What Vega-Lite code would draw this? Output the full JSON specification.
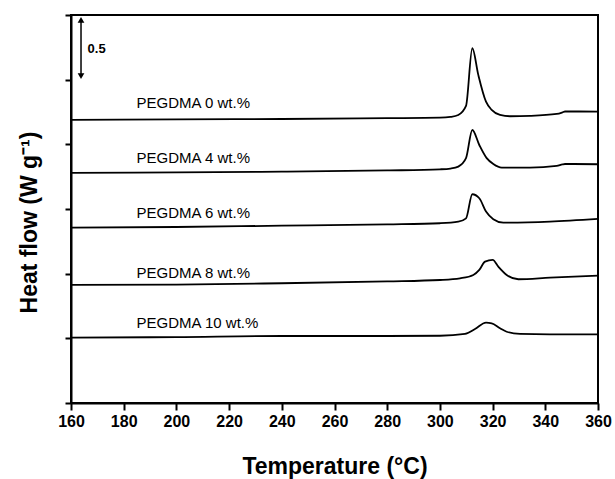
{
  "$schema": "https://vega.github.io/schema/vega-lite/v6.json",
  "width": 527,
  "height": 388,
  "autosize": "none",
  "padding": {"left": 71, "top": 15, "right": 17, "bottom": 76},
  "background": "white",
  "config": {
    "view": {"stroke": "black", "strokeWidth": 2},
    "font": "Liberation Sans",
    "axis": {"domainColor": "black", "domainWidth": 2, "tickColor": "black", "tickWidth": 2, "grid": false, "labelColor": "black", "titleColor": "black", "labelFont": "Liberation Sans", "titleFont": "Liberation Sans", "labelFontWeight": "bold", "titleFontWeight": "bold"},
    "axisX": {"labelFontWeight": "bold", "labelFontSize": 16}
  },
  "datasets": {
    "curves": [
      {"T": 160, "hf": 2.189, "s": "0"}, {"T": 200, "hf": 2.193, "s": "0"}, {"T": 240, "hf": 2.196, "s": "0"}, {"T": 280, "hf": 2.202, "s": "0"}, {"T": 300.04, "hf": 2.206, "s": "0"}, {"T": 304, "hf": 2.212, "s": "0"}, {"T": 306.98, "hf": 2.227, "s": "0"}, {"T": 309.91, "hf": 2.297, "s": "0"}, {"T": 312.3, "hf": 2.743, "s": "0"}, {"T": 314.57, "hf": 2.537, "s": "0"}, {"T": 317.5, "hf": 2.33, "s": "0"}, {"T": 319.66, "hf": 2.266, "s": "0"}, {"T": 322.81, "hf": 2.227, "s": "0"}, {"T": 326.6, "hf": 2.217, "s": "0"}, {"T": 334.19, "hf": 2.22, "s": "0"}, {"T": 344.33, "hf": 2.235, "s": "0"}, {"T": 346.5, "hf": 2.247, "s": "0"}, {"T": 347.48, "hf": 2.254, "s": "0"}, {"T": 360, "hf": 2.253, "s": "0"},
      {"T": 160, "hf": 1.779, "s": "4"}, {"T": 200, "hf": 1.783, "s": "4"}, {"T": 240, "hf": 1.789, "s": "4"}, {"T": 280, "hf": 1.798, "s": "4"}, {"T": 300.04, "hf": 1.807, "s": "4"}, {"T": 304, "hf": 1.813, "s": "4"}, {"T": 306.98, "hf": 1.828, "s": "4"}, {"T": 309.91, "hf": 1.893, "s": "4"}, {"T": 312.3, "hf": 2.111, "s": "4"}, {"T": 314.95, "hf": 1.995, "s": "4"}, {"T": 317.76, "hf": 1.893, "s": "4"}, {"T": 320.27, "hf": 1.848, "s": "4"}, {"T": 323.45, "hf": 1.82, "s": "4"}, {"T": 334.19, "hf": 1.82, "s": "4"}, {"T": 344.33, "hf": 1.833, "s": "4"}, {"T": 346.5, "hf": 1.845, "s": "4"}, {"T": 347.48, "hf": 1.848, "s": "4"}, {"T": 360, "hf": 1.846, "s": "4"},
      {"T": 160, "hf": 1.356, "s": "6"}, {"T": 200, "hf": 1.361, "s": "6"}, {"T": 240, "hf": 1.371, "s": "6"}, {"T": 280, "hf": 1.381, "s": "6"}, {"T": 300.04, "hf": 1.39, "s": "6"}, {"T": 306.98, "hf": 1.402, "s": "6"}, {"T": 309.91, "hf": 1.428, "s": "6"}, {"T": 312.3, "hf": 1.614, "s": "6"}, {"T": 314.95, "hf": 1.583, "s": "6"}, {"T": 317.5, "hf": 1.48, "s": "6"}, {"T": 320.27, "hf": 1.421, "s": "6"}, {"T": 324.06, "hf": 1.394, "s": "6"}, {"T": 341.78, "hf": 1.402, "s": "6"}, {"T": 360, "hf": 1.423, "s": "6"},
      {"T": 160, "hf": 0.913, "s": "8"}, {"T": 200, "hf": 0.916, "s": "8"}, {"T": 240, "hf": 0.926, "s": "8"}, {"T": 280, "hf": 0.94, "s": "8"}, {"T": 300.04, "hf": 0.951, "s": "8"}, {"T": 307.63, "hf": 0.964, "s": "8"}, {"T": 312.68, "hf": 0.99, "s": "8"}, {"T": 314.95, "hf": 1.029, "s": "8"}, {"T": 317.12, "hf": 1.093, "s": "8"}, {"T": 320.04, "hf": 1.106, "s": "8"}, {"T": 322.17, "hf": 1.054, "s": "8"}, {"T": 325.35, "hf": 0.99, "s": "8"}, {"T": 329.75, "hf": 0.957, "s": "8"}, {"T": 341.78, "hf": 0.969, "s": "8"}, {"T": 360, "hf": 0.985, "s": "8"},
      {"T": 160, "hf": 0.505, "s": "10"}, {"T": 200, "hf": 0.51, "s": "10"}, {"T": 240, "hf": 0.518, "s": "10"}, {"T": 280, "hf": 0.518, "s": "10"}, {"T": 300.04, "hf": 0.52, "s": "10"}, {"T": 309.53, "hf": 0.534, "s": "10"}, {"T": 313.32, "hf": 0.572, "s": "10"}, {"T": 317.5, "hf": 0.621, "s": "10"}, {"T": 319.66, "hf": 0.616, "s": "10"}, {"T": 322.81, "hf": 0.578, "s": "10"}, {"T": 325.35, "hf": 0.551, "s": "10"}, {"T": 330.4, "hf": 0.534, "s": "10"}, {"T": 341.78, "hf": 0.531, "s": "10"}, {"T": 360, "hf": 0.531, "s": "10"}
    ],
    "labels": [
      {"T": 184.9, "hf": 2.318, "text": "PEGDMA 0 wt.%"},
      {"T": 184.9, "hf": 1.893, "text": "PEGDMA 4 wt.%"},
      {"T": 184.9, "hf": 1.467, "text": "PEGDMA 6 wt.%"},
      {"T": 184.9, "hf": 1.003, "text": "PEGDMA 8 wt.%"},
      {"T": 184.9, "hf": 0.616, "text": "PEGDMA 10 wt.%"}
    ],
    "arrow": [{"T": 163.8, "y1": 2.53, "y2": 2.96}],
    "heads": [
      {"T": 163.8, "hf": 2.962, "shape": "triangle-up"},
      {"T": 163.8, "hf": 2.528, "shape": "triangle-down"}
    ],
    "scaleLabel": [{"T": 166.3, "hf": 2.738, "text": "0.5"}]
  },
  "layer": [
    {
      "data": {"name": "curves"},
      "mark": {"type": "line", "color": "black", "strokeWidth": 1.8, "interpolate": "monotone"},
      "encoding": {
        "x": {"field": "T", "type": "quantitative", "scale": {"domain": [160, 360], "nice": false, "zero": false},
          "axis": {"title": "Temperature (°C)", "values": [160,170,180,190,200,210,220,230,240,250,260,270,280,290,300,310,320,330,340,350,360],
            "labelExpr": "datum.value % 20 === 0 ? datum.label : ''",
            "tickSize": {"condition": {"test": "datum.value % 20 !== 0", "value": 4}, "value": 7},
            "labelPadding": 3, "labelFlush": false, "labelFontSize": 16, "labelFontWeight": "bold",
            "titleFontSize": 23, "titleFontWeight": "bold", "titlePadding": 26}},
        "y": {"field": "hf", "type": "quantitative", "scale": {"domain": [0, 3], "nice": false, "zero": false},
          "axis": {"title": "Heat flow (W g⁻¹)", "values": [0, 0.5, 1, 1.5, 2, 2.5, 3], "labels": false, "tickSize": 6,
            "titleFontSize": 23, "titleFontWeight": "bold", "titlePadding": 23, "titleY": 207}},
        "detail": {"field": "s"}
      }
    },
    {
      "data": {"name": "labels"},
      "mark": {"type": "text", "align": "left", "baseline": "middle", "fontSize": 15, "color": "black"},
      "encoding": {
        "x": {"field": "T", "type": "quantitative"},
        "y": {"field": "hf", "type": "quantitative"},
        "text": {"field": "text"}
      }
    },
    {
      "data": {"name": "arrow"},
      "mark": {"type": "rule", "color": "black", "strokeWidth": 1.5},
      "encoding": {
        "x": {"field": "T", "type": "quantitative"},
        "y": {"field": "y1", "type": "quantitative"},
        "y2": {"field": "y2"}
      }
    },
    {
      "data": {"name": "heads"},
      "mark": {"type": "point", "filled": true, "color": "black", "size": 45, "opacity": 1},
      "encoding": {
        "x": {"field": "T", "type": "quantitative"},
        "y": {"field": "hf", "type": "quantitative"},
        "shape": {"field": "shape", "type": "nominal", "scale": null}
      }
    },
    {
      "data": {"name": "scaleLabel"},
      "mark": {"type": "text", "align": "left", "baseline": "middle", "fontSize": 13, "fontWeight": "bold", "color": "black"},
      "encoding": {
        "x": {"field": "T", "type": "quantitative"},
        "y": {"field": "hf", "type": "quantitative"},
        "text": {"field": "text"}
      }
    }
  ]
}
